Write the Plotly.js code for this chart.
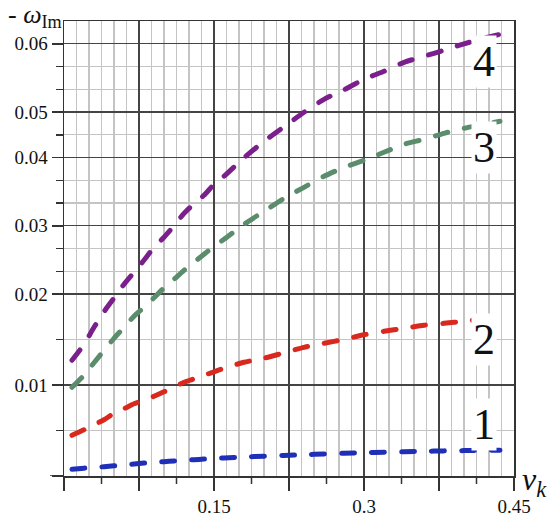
<!DOCTYPE html>
<html><head><meta charset="utf-8">
<script src="https://cdn.plot.ly/plotly-3.0.1.min.js"></script>
<style>
html,body{margin:0;padding:0;background:#fff;}
#chart{width:550px;height:517px;}
.scatterlayer .js-line{stroke-linecap:round;}
</style>
</head><body><div id="chart"></div>
<script>
// ---- data ----
const nu = [0.008, 0.02, 0.03, 0.04, 0.05, 0.06, 0.07, 0.08, 0.09, 0.10, 0.11, 0.12, 0.13, 0.14, 0.15,
            0.16, 0.18, 0.20, 0.22, 0.24, 0.26, 0.28, 0.30, 0.32, 0.34, 0.36, 0.38, 0.40, 0.42, 0.436];
const nuCurve2 = [0.008, 0.02, 0.03, 0.04, 0.05, 0.06, 0.07, 0.08, 0.09, 0.10, 0.11, 0.12, 0.13, 0.14, 0.15,
            0.16, 0.18, 0.20, 0.22, 0.24, 0.26, 0.28, 0.30, 0.32, 0.34, 0.36, 0.38, 0.40, 0.42, 0.424];
const omega1 = [0.00074, 0.00086, 0.00094, 0.00102, 0.00112, 0.00122, 0.00132, 0.00142, 0.00150, 0.00157,
                0.00165, 0.00172, 0.00179, 0.00186, 0.00192, 0.00198, 0.00208, 0.00218, 0.00226, 0.00234,
                0.00242, 0.00250, 0.00256, 0.00261, 0.00266, 0.00271, 0.00276, 0.00279, 0.00282, 0.00284];
const omega2 = [0.00447, 0.00508, 0.00563, 0.00618, 0.00689, 0.00739, 0.00794, 0.00832, 0.00876, 0.00925,
                0.00980, 0.01030, 0.01068, 0.01107, 0.01145, 0.01184, 0.01250, 0.01294, 0.01354, 0.01414,
                0.01458, 0.01502, 0.01552, 0.01590, 0.01623, 0.01656, 0.01678, 0.01700, 0.01728, 0.01733];
const omega3 = [0.00975, 0.01107, 0.01244, 0.01381, 0.01513, 0.01634, 0.01755, 0.01854, 0.01958, 0.02091,
                0.02215, 0.02347, 0.02464, 0.02582, 0.02699, 0.02802, 0.03021, 0.03212, 0.03402, 0.03563,
                0.03725, 0.03856, 0.03959, 0.04115, 0.04290, 0.04400, 0.04532, 0.04642, 0.04730, 0.04796];
const omega4 = [0.01272, 0.01447, 0.01634, 0.01805, 0.01955, 0.02142, 0.02318, 0.02494, 0.02684, 0.02831,
                0.02999, 0.03182, 0.03322, 0.03446, 0.03607, 0.03725, 0.03996, 0.04356, 0.04675, 0.04994,
                0.05186, 0.05325, 0.05479, 0.05596, 0.05728, 0.05816, 0.05904, 0.05999, 0.06080, 0.06138];
const curveNames = ['1', '2', '3', '4'];

// ---- axis ticks ----
const yLabelValues = [0.01, 0.02, 0.03, 0.04, 0.05, 0.06];
const yLabelText = ['0.01', '0.02', '0.03', '0.04', '0.05', '0.06'];
const yMinorValues = [0.005, 0.015, 0.02 + 0.01/3, 0.02 + 0.02/3, 0.03 + 0.01/3, 0.03 + 0.02/3,
                      0.045, 0.05 + 0.01/3, 0.05 + 0.02/3];
const xLabelValues = [0.15, 0.3, 0.45];
const xLabelText = ['0.15', '0.3', '0.45'];

// the printed vertical scale is not uniform: value -> grid step
const scaleValues = [0, 0.01, 0.02, 0.03, 0.04, 0.05, 0.06];
const scaleSteps  = [0, 4, 8, 11, 14, 16, 19];
function toAxis(v) {
  let i = 0;
  while (i < scaleValues.length - 2 && v > scaleValues[i + 1]) i++;
  const t = (v - scaleValues[i]) / (scaleValues[i + 1] - scaleValues[i]);
  return scaleSteps[i] + t * (scaleSteps[i + 1] - scaleSteps[i]);
}
const yTop = toAxis(0.06 + 0.01/3);

// x grid
const xMax = 0.45, xFineStep = 0.0125;
const xMajor = [], xFine = [], xShort = [];
for (let k = 0; k <= Math.round(xMax / xFineStep); k++) {
  const v = +(k * xFineStep).toFixed(5);
  if (k % 6 === 0) xMajor.push(v); else xFine.push(v);
  if (k % 6 === 3) xShort.push(v);
}
const xText = xMajor.map(v => {
  const j = xLabelValues.findIndex(L => Math.abs(L - v) < 1e-6);
  return j >= 0 ? xLabelText[j] : ' ';
});

const serif = 'Liberation Serif';
const colors = ['#1f2fb8', '#d9281d', '#5b8c6c', '#7b1f8c'];
const series = [[nu, omega1], [nuCurve2, omega2], [nu, omega3], [nu, omega4]];

const traces = series.map((s, i) => ({
  x: s[0], y: s[1].map(toAxis), type: 'scatter', mode: 'lines',
  line: {color: colors[i], width: 5, dash: '13px,17px', shape: 'spline', smoothing: 0.6},
  hoverinfo: 'skip', showlegend: false
}));

const labelPos = [[0.42, 2.27], [0.42, 6.0], [0.42, 14.43], [0.42, 18.2]];
const annotations = curveNames.map((n, i) => ({
  text: n, x: labelPos[i][0], y: labelPos[i][1], xref: 'x', yref: 'y',
  showarrow: false, bgcolor: '#ffffff', borderpad: 1,
  font: {family: serif, size: 44, color: '#111'}
}));
annotations.push({
  text: '- <i>ω</i><sub>Im</sub>', xref: 'paper', yref: 'paper', x: -0.13, y: 1.012,
  xanchor: 'left', yanchor: 'middle', showarrow: false,
  font: {family: serif, size: 26, color: '#111'}
});
annotations.push({
  text: '<i>ν</i><sub><i>k</i></sub>', xref: 'paper', yref: 'paper', x: 1.014, y: -0.012,
  xanchor: 'left', yanchor: 'middle', showarrow: false,
  font: {family: serif, size: 32, color: '#111'}
});

const shapes = xShort.map(v => ({
  type: 'line', xref: 'x', yref: 'paper', x0: v, x1: v, y0: 0, y1: -8/455,
  line: {color: '#333', width: 1.5}
}));
shapes.push({type: 'line', xref: 'paper', yref: 'y', x0: 0, x1: -14/450, y0: 0, y1: 0,
  line: {color: '#333', width: 1.5}});

const layout = {
  width: 550, height: 517,
  margin: {l: 64, r: 36, t: 21, b: 41, pad: 0},
  paper_bgcolor: '#fff', plot_bgcolor: '#fff',
  showlegend: false,
  font: {family: serif, size: 19, color: '#111'},
  xaxis: {
    range: [0, xMax], showline: true, mirror: true, linecolor: '#333', linewidth: 1.5,
    zeroline: false, tickmode: 'array', tickvals: xMajor, ticktext: xText,
    ticks: 'outside', ticklen: 13, tickwidth: 1.5, tickcolor: '#333',
    showgrid: true, gridcolor: '#444', gridwidth: 1.3,
    tickfont: {family: serif, size: 19, color: '#111'},
    minor: {tickmode: 'array', tickvals: xFine, ticks: '', showgrid: true, gridcolor: '#c4c4c4', gridwidth: 1.3}
  },
  yaxis: {
    range: [0, yTop], showline: true, mirror: true, linecolor: '#333', linewidth: 1.5,
    zeroline: false, tickmode: 'array',
    tickvals: [0].concat(yLabelValues.map(toAxis)), ticktext: [' '].concat(yLabelText),
    ticks: 'outside', ticklen: 11, tickwidth: 1.5, tickcolor: '#333',
    showgrid: true, gridcolor: '#444', gridwidth: 1.3,
    tickfont: {family: serif, size: 19, color: '#111'},
    minor: {tickmode: 'array', tickvals: yMinorValues.map(toAxis), ticks: 'outside', ticklen: 7,
            tickwidth: 1.5, tickcolor: '#333', showgrid: true, gridcolor: '#c4c4c4', gridwidth: 1.3}
  },
  annotations: annotations,
  shapes: shapes
};

Plotly.newPlot('chart', traces, layout, {displayModeBar: false, staticPlot: true});
</script>
</body></html>
